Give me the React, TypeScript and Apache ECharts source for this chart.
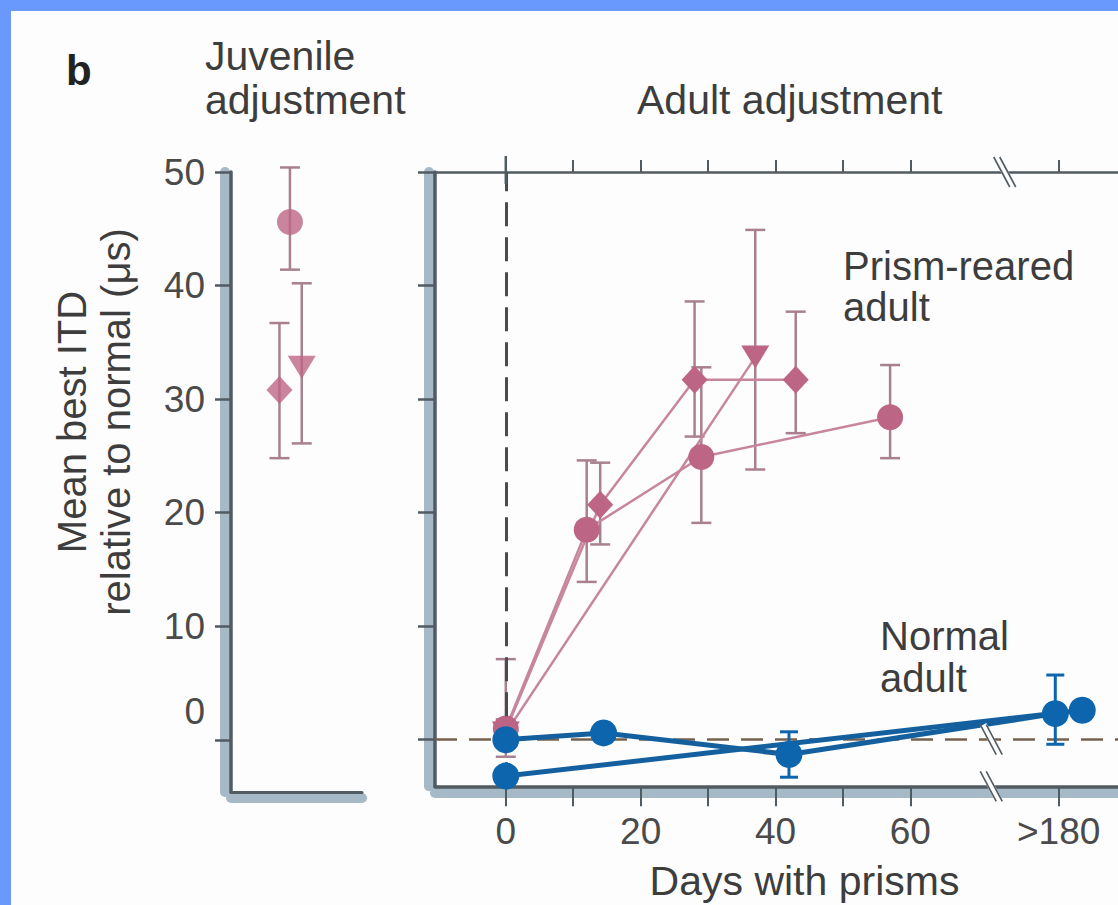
import { useEffect, useRef } from 'react';
import * as echarts from 'echarts';

// ---- data ----
// Juvenile panel: x is only a horizontal placement slot (0-100), y = mean best ITD (µs)
const juvenileCircle = [[45, 45.6]];
const juvenileDiamond = [[37, 30.8]];
const juvenileTriangle = [[54, 32.8]];
const juvenileErrors = [
  [45, 41.4, 50.4],
  [37, 24.8, 36.7],
  [54, 26.1, 40.2],
];

// Adult panel: x = days with prisms (>180 drawn at the break position), y = ITD (µs)
const prismCircle = [[0, 1.0], [12, 18.5], [29, 24.9], [57, 28.4]];
const prismDiamond = [[0, 0.8], [14, 20.7], [28, 31.7], [43, 31.7]];
const prismTriangle = [[0, 0.6], [37, 33.7]];
const prismErrors = [
  [0, -1.5, 7.1],
  [0, -0.5, 1.8],
  [12, 13.9, 24.6],
  [14, 17.2, 24.4],
  [28, 26.7, 38.6],
  [29, 19.1, 32.8],
  [37, 23.8, 44.9],
  [43, 27.0, 37.7],
  [57, 24.8, 33.0],
];

const normalA = [[0, 0], [14.5, 0.6], [42, -1.3], [81.5, 2.3]];
const normalB = [[0, -3.2], [85.5, 2.6]];
const normalErrors = [
  [42, -3.3, 0.7],
  [81.5, -0.4, 5.7],
];

const itdTicks = [0, 10, 20, 30, 40, 50];
const dayTicks = [0, 10, 20, 30, 40, 50, 60, 82];
const dayLabels = [0, 20, 40, 60, 82];
const lateDay = 82;
const lateLabel = '>180';

// ---- styles ----
const PINK = '#bd6585';
const PINK_LINE = '#c7869d';
const PINK_ERR = '#a8808f';
const BLUE = '#0d66ad';
const BLUE_LINE = '#14609f';
const AXIS_DARK = '#515b62';
const AXIS_BAND = '#a6b9c6';
const TEXT = '#3d3d3d';
const PAPER = '#fdfdfd';
const FRAME = '#6a99fd';
const FONT = "'Liberation Sans', Arial, Helvetica, sans-serif";

function errRenderer(color: string, lw: number, half: number) {
  return (_params: any, api: any) => {
    const x = api.value(0);
    const p1 = api.coord([x, api.value(1)]);
    const p2 = api.coord([x, api.value(2)]);
    const style = { stroke: color, lineWidth: lw };
    return {
      type: 'group',
      children: [
        { type: 'line', shape: { x1: p1[0], y1: p1[1], x2: p2[0], y2: p2[1] }, style },
        { type: 'line', shape: { x1: p1[0] - half, y1: p1[1], x2: p1[0] + half, y2: p1[1] }, style },
        { type: 'line', shape: { x1: p2[0] - half, y1: p2[1], x2: p2[0] + half, y2: p2[1] }, style },
      ],
    };
  };
}

export default function App() {
  const ref = useRef<HTMLDivElement>(null);

  useEffect(() => {
    document.body.style.margin = '0';
    const chart = echarts.init(ref.current!, null, { renderer: 'svg' });

    const hidden = { show: false };
    const dark = (w: number) => ({ show: true, onZero: false, lineStyle: { color: AXIS_DARK, width: w } });
    const band = { show: true, onZero: false, lineStyle: { color: AXIS_BAND, width: 10 } };
    const labelStyle = { fontFamily: FONT, fontSize: 37, color: '#4a4a4a' };

    const option: any = {
      animation: false,
      backgroundColor: FRAME,
      grid: [
        { left: 231, top: 172, width: 131, height: 620, outerBoundsMode: 'none' },
        { left: 435, top: 172, right: 0, height: 614.3, outerBoundsMode: 'none' },
      ],
      xAxis: [
        {
          gridIndex: 0, type: 'value', min: 0, max: 100, position: 'bottom', z: 3,
          axisLine: dark(3), axisTick: hidden, axisLabel: hidden, splitLine: hidden,
        },
        {
          gridIndex: 0, type: 'value', min: 0, max: 1, position: 'bottom', offset: 6, z: 1,
          axisLine: band, axisTick: hidden, axisLabel: hidden, splitLine: hidden,
        },
        {
          gridIndex: 1, type: 'value', min: -10.5, max: 90.8, position: 'bottom', z: 3,
          axisLine: dark(3.5),
          axisTick: { show: true, inside: false, length: 20, customValues: dayTicks, lineStyle: { color: AXIS_DARK, width: 2 } },
          axisLabel: {
            show: true, customValues: dayLabels, margin: 27, ...labelStyle,
            formatter: (v: number) => (v === lateDay ? lateLabel : String(v)),
          },
          splitLine: hidden,
          name: 'Days with prisms',
          nameLocation: 'middle',
          nameGap: 74,
          nameTextStyle: { fontFamily: FONT, fontSize: 41, color: TEXT, padding: [0, 0, 0, 56] },
        },
        {
          gridIndex: 1, type: 'value', min: 0, max: 1, position: 'bottom', offset: 6, z: 1,
          axisLine: band, axisTick: hidden, axisLabel: hidden, splitLine: hidden,
        },
        {
          gridIndex: 1, type: 'value', min: -10.5, max: 90.8, position: 'top', z: 3,
          axisLine: dark(2.5),
          axisTick: { show: true, inside: false, length: 12, customValues: dayTicks, lineStyle: { color: AXIS_DARK, width: 2 } },
          axisLabel: hidden, splitLine: hidden,
        },
      ],
      yAxis: [
        {
          gridIndex: 0, type: 'value', min: -4.6, max: 50, position: 'left', z: 3,
          axisLine: dark(3.5),
          axisTick: { show: true, inside: false, length: 16, customValues: itdTicks, lineStyle: { color: AXIS_DARK, width: 2.5 } },
          axisLabel: {
            show: true, customValues: itdTicks, margin: 26, ...labelStyle,
            formatter: (v: number) => (v === 0 ? '{z|0}' : String(v)),
            rich: { z: { fontFamily: FONT, fontSize: 37, color: '#4a4a4a', padding: [0, 0, 56, 0] } },
          },
          splitLine: hidden,
        },
        {
          gridIndex: 0, type: 'value', min: 0, max: 1, position: 'left', offset: 6.5, z: 1,
          axisLine: band, axisTick: hidden, axisLabel: hidden, splitLine: hidden,
        },
        {
          gridIndex: 1, type: 'value', min: -4.1, max: 50, position: 'left', z: 3,
          axisLine: dark(3.5),
          axisTick: { show: true, inside: false, length: 17, customValues: itdTicks, lineStyle: { color: AXIS_DARK, width: 2.5 } },
          axisLabel: hidden, splitLine: hidden,
        },
        {
          gridIndex: 1, type: 'value', min: 0, max: 1, position: 'left', offset: 6.5, z: 1,
          axisLine: band, axisTick: hidden, axisLabel: hidden, splitLine: hidden,
        },
      ],
      series: [
        // 0 juvenile error bars
        {
          type: 'custom', xAxisIndex: 0, yAxisIndex: 0, z: 2,
          renderItem: errRenderer(PINK_ERR, 2.5, 10),
          encode: { x: 0, y: [1, 2] }, data: juvenileErrors,
        },
        // 1-3 juvenile markers
        {
          type: 'scatter', xAxisIndex: 0, yAxisIndex: 0, z: 4, symbol: 'circle', symbolSize: 26,
          itemStyle: { color: PINK }, data: juvenileCircle,
        },
        {
          type: 'scatter', xAxisIndex: 0, yAxisIndex: 0, z: 4, symbol: 'diamond', symbolSize: [26, 28],
          itemStyle: { color: PINK }, data: juvenileDiamond,
        },
        {
          type: 'scatter', xAxisIndex: 0, yAxisIndex: 0, z: 4, symbol: 'triangle', symbolRotate: 180,
          symbolSize: [28, 23], itemStyle: { color: PINK }, data: juvenileTriangle,
        },
        // 4 reference lines (dashed) in adult panel
        {
          type: 'line', xAxisIndex: 2, yAxisIndex: 2, z: 1, data: [],
          markLine: {
            silent: true, symbol: 'none', label: { show: false },
            data: [
              { xAxis: 0, lineStyle: { color: '#474c50', width: 3, type: [24, 11] } },
              { yAxis: 0, lineStyle: { color: '#75614f', width: 2.5, type: [22, 12] } },
            ],
          },
        },
        // 5 prism error bars
        {
          type: 'custom', xAxisIndex: 2, yAxisIndex: 2, z: 2,
          renderItem: errRenderer(PINK_ERR, 2.5, 10),
          encode: { x: 0, y: [1, 2] }, data: prismErrors,
        },
        // 6-8 prism-reared adult series
        {
          type: 'line', xAxisIndex: 2, yAxisIndex: 2, z: 3, symbol: 'circle', symbolSize: 26,
          lineStyle: { color: PINK_LINE, width: 2.5 }, itemStyle: { color: PINK }, data: prismCircle,
        },
        {
          type: 'line', xAxisIndex: 2, yAxisIndex: 2, z: 3, symbol: 'diamond', symbolSize: [26, 28],
          lineStyle: { color: PINK_LINE, width: 2.5 }, itemStyle: { color: PINK }, data: prismDiamond,
        },
        {
          type: 'line', xAxisIndex: 2, yAxisIndex: 2, z: 3, symbol: 'triangle', symbolRotate: 180,
          symbolSize: [28, 23], lineStyle: { color: PINK_LINE, width: 2.5 }, itemStyle: { color: PINK },
          data: prismTriangle,
        },
        // 9 normal error bars
        {
          type: 'custom', xAxisIndex: 2, yAxisIndex: 2, z: 5,
          renderItem: errRenderer(BLUE, 3, 9),
          encode: { x: 0, y: [1, 2] }, data: normalErrors,
        },
        // 10-11 normal adult series
        {
          type: 'line', xAxisIndex: 2, yAxisIndex: 2, z: 6, symbol: 'circle', symbolSize: 27,
          lineStyle: { color: BLUE_LINE, width: 5 }, itemStyle: { color: BLUE }, data: normalA,
        },
        {
          type: 'line', xAxisIndex: 2, yAxisIndex: 2, z: 6, symbol: 'circle', symbolSize: 27,
          lineStyle: { color: BLUE_LINE, width: 5 }, itemStyle: { color: BLUE }, data: normalB,
        },
      ],
    };

    chart.setOption(option);

    const px = (x: number, y: number) => chart.convertToPixel({ seriesIndex: 6 }, [x, y]) as number[];

    const brk = (id: string, c: number[]) => [
      {
        id: id + 'w', type: 'line', z: 20, silent: true,
        shape: { x1: c[0] - 8, y1: c[1] - 15, x2: c[0] + 8, y2: c[1] + 15 },
        style: { stroke: PAPER, lineWidth: 7 },
      },
      {
        id: id + 'a', type: 'line', z: 21, silent: true,
        shape: { x1: c[0] - 11, y1: c[1] - 15, x2: c[0] + 5, y2: c[1] + 15 },
        style: { stroke: AXIS_DARK, lineWidth: 1.6 },
      },
      {
        id: id + 'b', type: 'line', z: 21, silent: true,
        shape: { x1: c[0] - 5, y1: c[1] - 15, x2: c[0] + 11, y2: c[1] + 15 },
        style: { stroke: AXIS_DARK, lineWidth: 1.6 },
      },
    ];

    const topZero = px(0, 50);
    const txt = (id: string, x: number, y: number, text: string, size: number, extra: any = {}) => ({
      id, type: 'text', x, y, silent: true, z: 30,
      style: {
        text, fill: TEXT, fontFamily: FONT, fontSize: size, textAlign: 'left', textVerticalAlign: 'middle',
        ...extra,
      },
    });

    chart.setOption({
      graphic: [
        {
          id: 'paper', type: 'rect', z: -10, silent: true,
          shape: { x: 11, y: 11, width: 1107, height: 894 },
          style: { fill: PAPER },
        },
        {
          id: 'zeroTick', type: 'line', z: 5, silent: true,
          shape: { x1: topZero[0], y1: topZero[1] - 16, x2: topZero[0], y2: topZero[1] + 12 },
          style: { stroke: AXIS_DARK, lineWidth: 2.5 },
        },
        ...brk('brkTop', px(74, 50)),
        ...brk('brkZero', px(72, 0)),
        ...brk('brkBottom', px(72, -4.1)),
        txt('panelB', 66, 70, 'b', 42, { fontWeight: 'bold', fill: '#222' }),
        txt('juv1', 205, 56, 'Juvenile', 41),
        txt('juv2', 205, 100, 'adjustment', 41),
        txt('adult', 637, 100, 'Adult adjustment', 41),
        txt('prism1', 843, 266, 'Prism-reared', 40),
        txt('prism2', 843, 307, 'adult', 40),
        txt('normal1', 880, 636, 'Normal', 40),
        txt('normal2', 880, 678, 'adult', 40),
        {
          id: 'yname', type: 'text', x: 94, y: 422, rotation: Math.PI / 2, silent: true, z: 30,
          style: {
            text: 'Mean best ITD\nrelative to normal (μs)', fill: TEXT, fontFamily: FONT, fontSize: 40,
            textAlign: 'center', textVerticalAlign: 'middle', lineHeight: 44,
          },
        },
      ],
    });

    return () => chart.dispose();
  }, []);

  return <div ref={ref} style={{ width: 1118, height: 905 }} />;
}
